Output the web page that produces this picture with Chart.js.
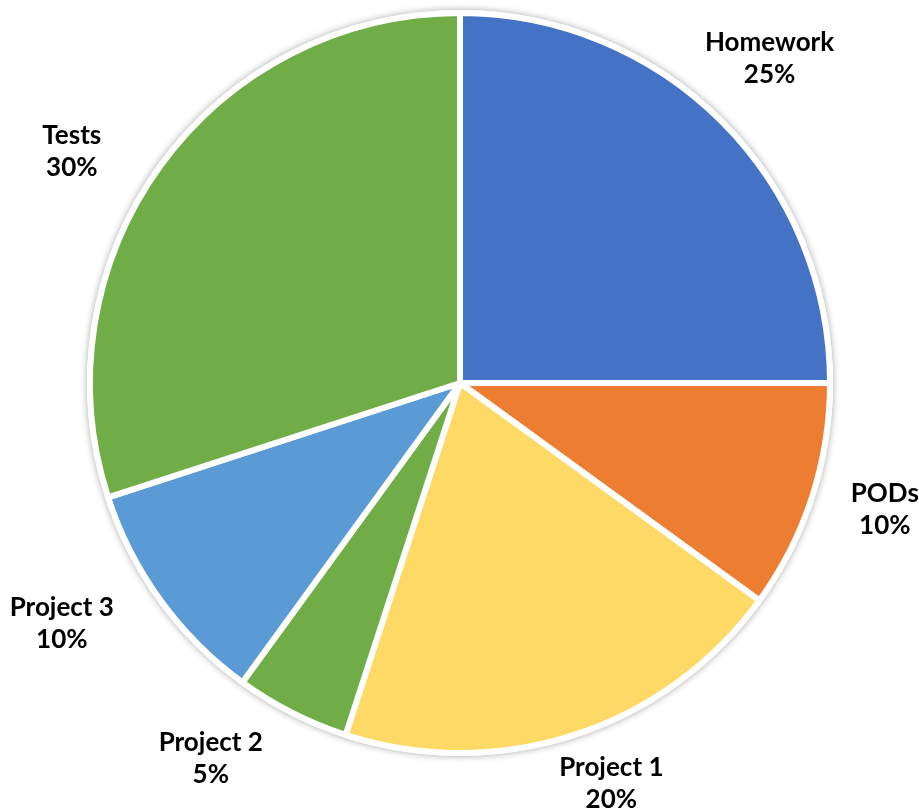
<!DOCTYPE html>
<html>
<head>
<meta charset="utf-8">
<script src="https://cdn.jsdelivr.net/npm/chart.js@4/dist/chart.umd.min.js"></script>
<style>
  html, body { margin: 0; padding: 0; background: #fff; }
  #wrap { width: 919px; height: 812px; position: relative; }
</style>
</head>
<body>
<div id="wrap"><canvas id="gradeChart"></canvas></div>
<script>
// grade weights
const categories = ['Homework', 'PODs', 'Project 1', 'Project 2', 'Project 3', 'Tests'];
const weights = [25, 10, 20, 5, 10, 30];
const sliceColors = ['#4472C4', '#ED7D31', '#FFD966', '#70AD47', '#5B9BD5', '#70AD47'];

// soft grey shadow round the pie, like the Office style
const pieShadow = {
    id: 'pieShadow',
    beforeDatasetsDraw(chart) {
        const arc = chart.getDatasetMeta(0).data[0];
        if (!arc) return;
        const ctx = chart.ctx;
        ctx.save();
        ctx.beginPath();
        ctx.arc(arc.x, arc.y, arc.outerRadius + 3, 0, Math.PI * 2);
        ctx.fillStyle = '#fff';
        ctx.shadowColor = 'rgba(0,0,0,0.35)';
        ctx.shadowBlur = 7;
        ctx.fill();
        ctx.restore();
    }
};

// draws "Name / NN%" outside each slice, like Excel's outside-end labels
// Excel shuffles a few labels about, so each one gets a small nudge (px)
const labelNudge = [[-7, -8], [-1, -12], [13, -25], [-46, -23], [-36, -23], [-26, 32]];

const outsideLabels = {
    id: 'outsideLabels',
    afterDatasetsDraw(chart) {
        const ctx = chart.ctx;
        const meta = chart.getDatasetMeta(0);
        ctx.save();
        ctx.fillStyle = '#000';
        ctx.font = 'bold 26px Lato, "Open Sans", sans-serif';
        ctx.textAlign = 'center';
        ctx.textBaseline = 'middle';
        meta.data.forEach((arc, i) => {
            const mid = (arc.startAngle + arc.endAngle) / 2;
            const r = arc.outerRadius * 1.21;
            const x = arc.x + Math.cos(mid) * r + labelNudge[i][0];
            const y = arc.y + Math.sin(mid) * r + labelNudge[i][1];
            ctx.fillText(categories[i], x, y - 16);
            ctx.fillText(weights[i] + '%', x, y + 16);
        });
        ctx.restore();
    }
};

new Chart(document.getElementById('gradeChart').getContext('2d'), {
    type: 'pie',
    data: {
        labels: categories,
        datasets: [{
            data: weights,
            backgroundColor: sliceColors,
            borderColor: '#fff',
            borderWidth: 6
        }]
    },
    options: {
        responsive: true,
        maintainAspectRatio: false,
        animation: false,
        layout: { padding: { left: 87, right: 86, top: 10, bottom: 56 } },
        plugins: {
            legend: { display: false },
            tooltip: { enabled: false }
        }
    },
    plugins: [pieShadow, outsideLabels]
});
</script>
</body>
</html>
